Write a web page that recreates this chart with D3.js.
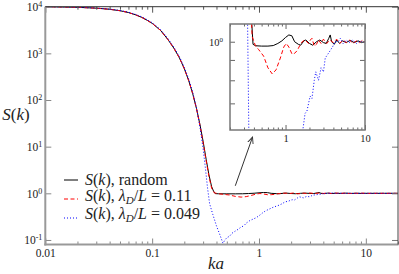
<!DOCTYPE html>
<html>
<head>
<meta charset="utf-8">
<script src="https://cdn.jsdelivr.net/npm/d3@7"></script>
<style>
body { margin: 0; background: #fff; }
text { fill: #222; }
</style>
</head>
<body>
<svg id="chart" width="399" height="274"></svg>
<script>

// S(k) vs ka [k, S]
var seriesRandom = [
	[0.01, 9990], [0.015, 9850], [0.02, 9700], [0.03, 9300], [0.04, 8800], [0.05, 8200],
	[0.06, 7500], [0.07, 6700], [0.08, 5900], [0.09, 5100], [0.1, 4400], [0.12, 3100],
	[0.14, 2000], [0.16, 1280], [0.18, 800], [0.2, 470], [0.22, 260], [0.24, 135],
	[0.26, 66], [0.28, 30], [0.3, 13], [0.32, 5.4], [0.34, 2.5], [0.36, 1.4], [0.375, 1.12],
	[0.39, 0.985], [0.42, 0.977], [0.5, 0.975], [0.6, 0.975], [0.7, 0.978], [0.8, 0.99],
	[0.9, 1.005], [1.0, 1.025], [1.1, 1.04], [1.2, 1.035], [1.3, 1.0], [1.45, 0.985],
	[1.55, 0.98], [1.7, 1.005], [1.8, 1.01], [2.0, 0.99], [2.2, 0.98], [2.45, 1.0],
	[2.7, 1.01], [3.0, 0.995], [3.25, 0.99], [3.5, 1.02], [3.65, 1.04], [3.8, 1.0],
	[4.1, 0.985], [4.4, 1.01], [4.8, 0.99], [5.2, 1.005], [5.8, 0.995], [6.5, 1.008],
	[7.3, 0.995], [8.2, 1.005], [9, 0.995], [10, 1.0], [12, 1.0], [15, 1.0], [20, 1.0]
];
var seriesL011 = [
	[0.01, 9990], [0.015, 9850], [0.02, 9700], [0.03, 9300], [0.04, 8800], [0.05, 8200],
	[0.06, 7500], [0.07, 6700], [0.08, 5900], [0.09, 5100], [0.1, 4400], [0.12, 3100],
	[0.14, 2000], [0.16, 1280], [0.18, 800], [0.2, 470], [0.22, 260], [0.24, 135],
	[0.26, 65], [0.28, 29], [0.3, 12], [0.32, 5], [0.34, 2.3], [0.36, 1.3], [0.38, 1.03],
	[0.42, 0.975], [0.46, 0.955], [0.53, 0.92], [0.6, 0.86], [0.68, 0.83], [0.76, 0.85],
	[0.86, 0.91], [0.95, 0.97], [1.02, 0.99], [1.1, 0.97], [1.21, 0.93], [1.3, 0.935],
	[1.4, 0.95], [1.52, 0.98], [1.62, 1.0], [1.75, 1.01], [1.95, 0.99], [2.05, 1.01],
	[2.15, 1.02], [2.3, 0.975], [2.45, 0.985], [2.6, 1.01], [2.8, 0.99], [3.0, 1.015],
	[3.3, 0.99], [3.6, 1.01], [4.0, 0.995], [4.4, 1.015], [4.8, 0.99], [5.3, 1.01],
	[5.8, 0.995], [6.4, 1.01], [7, 0.99], [7.8, 1.005], [8.6, 0.995], [9.4, 1.01],
	[10, 0.995], [12, 1.0], [15, 1.0], [20, 1.0]
];
var seriesL049 = [
	[0.01, 10000], [0.015, 9880], [0.02, 9740], [0.03, 9360], [0.04, 8880], [0.05, 8300],
	[0.06, 7620], [0.07, 6830], [0.08, 6050], [0.09, 5250], [0.1, 4550], [0.12, 3230],
	[0.14, 2100], [0.16, 1350], [0.18, 850], [0.2, 500], [0.22, 280], [0.24, 145],
	[0.26, 68], [0.28, 27], [0.3, 9], [0.315, 3.5], [0.33, 1.3], [0.345, 0.6], [0.37, 0.35],
	[0.4, 0.2], [0.43, 0.13], [0.46, 0.085], [0.48, 0.1], [0.5, 0.112], [0.53, 0.12],
	[0.56, 0.14], [0.6, 0.155], [0.64, 0.17], [0.68, 0.19], [0.72, 0.2], [0.76, 0.23],
	[0.82, 0.26], [0.88, 0.28], [0.94, 0.3], [1.0, 0.33], [1.08, 0.38], [1.15, 0.42],
	[1.25, 0.46], [1.35, 0.5], [1.45, 0.53], [1.55, 0.56], [1.65, 0.6], [1.76, 0.66],
	[1.86, 0.67], [1.95, 0.7], [2.04, 0.73], [2.15, 0.72], [2.3, 0.8], [2.4, 0.84],
	[2.6, 0.8], [2.8, 0.86], [3.0, 0.84], [3.16, 0.91], [3.4, 0.93], [3.65, 0.95],
	[3.9, 0.97], [4.2, 1.0], [4.6, 1.0], [4.9, 1.02], [5.3, 0.99], [5.8, 1.01],
	[6.3, 0.995], [7, 1.01], [7.8, 0.99], [8.6, 1.005], [9.5, 0.995], [10, 1.0],
	[12, 1.0], [20, 1.0]
];

var xMajorTicks = [0.01, 0.1, 1, 10];
var xTickLabels = ["0.01", "0.1", "1", "10"];
var yMajorTicks = [0.1, 1, 10, 100, 1000, 10000];
var yTickExps = ["-1", "0", "1", "2", "3", "4"];
var insetYTicks = [0.7, 0.8, 0.9, 1.0];
var insetXMajor = [1, 10];
var insetXLabels = ["1", "10"];
var legendValues = ["random", "0.11", "0.049"];
var arrowFrom = [0.6, 1.45], arrowTo = [0.87, 16];

var FONT = "Liberation Serif";
var svg = d3.select("#chart");
var m = {l: 45.3, r: 398, t: 6.7, b: 244.5};

var x = d3.scaleLog().domain([0.01, 20]).range([m.l, m.r]);
var y = d3.scaleLog().domain([0.08, 1e4]).range([m.b, m.t]);

var styles = [
	{data: seriesRandom, color: "#000", dash: null},
	{data: seriesL011, color: "#ff0000", dash: "4,2.5"},
	{data: seriesL049, color: "#0000ff", dash: "1,2"}
];

svg.append("clipPath").attr("id", "mainClip").append("rect")
	.attr("x", m.l).attr("y", m.t).attr("width", m.r - m.l).attr("height", m.b - m.t);

var line = d3.line().x(function (d) { return x(d[0]); }).y(function (d) { return y(d[1]); });

svg.append("g").attr("clip-path", "url(#mainClip)")
	.selectAll("path").data(styles).enter().append("path")
	.attr("d", function (d) { return line(d.data); })
	.attr("fill", "none")
	.attr("stroke", function (d) { return d.color; })
	.attr("stroke-width", 1)
	.attr("stroke-dasharray", function (d) { return d.dash; });

function minorsOf(scale, majors) {
	return scale.ticks().filter(function (v) {
		return !majors.some(function (mj) { return Math.abs(mj - v) < 1e-9; });
	});
}
var xMinor = minorsOf(x, xMajorTicks);

function styleAxis(g, col) {
	g.attr("font-family", FONT).attr("font-size", null);
	g.select(".domain").remove();
	g.selectAll("line").attr("stroke", col);
}

// bottom
var gb = svg.append("g").attr("transform", "translate(0," + m.b + ")")
	.call(d3.axisBottom(x).tickValues(xMajorTicks).tickSize(-6).tickPadding(4.5)
		.tickFormat(function (d, i) { return xTickLabels[i]; }));
styleAxis(gb, "#888");
gb.selectAll("text").attr("font-size", 11.5);
styleAxis(svg.append("g").attr("transform", "translate(0," + m.b + ")")
	.call(d3.axisBottom(x).tickValues(xMinor).tickSize(-3).tickFormat("")), "#888");
// top
styleAxis(svg.append("g").attr("transform", "translate(0," + m.t + ")")
	.call(d3.axisTop(x).tickValues(xMajorTicks).tickSize(-6).tickFormat("")), "#555");
styleAxis(svg.append("g").attr("transform", "translate(0," + m.t + ")")
	.call(d3.axisTop(x).tickValues(xMinor).tickSize(-3).tickFormat("")), "#555");
// left
var gl = svg.append("g").attr("transform", "translate(" + m.l + ",0)")
	.call(d3.axisLeft(y).tickValues(yMajorTicks).tickSize(-6).tickPadding(3).tickFormat(""));
styleAxis(gl, "#888");
gl.selectAll(".tick text").attr("font-size", 11.5).each(function (d, i) {
	var t = d3.select(this);
	t.append("tspan").text("10");
	t.append("tspan").attr("dy", "-0.5em").attr("font-size", 8).text(yTickExps[i]);
});
// right
styleAxis(svg.append("g").attr("transform", "translate(" + m.r + ",0)")
	.call(d3.axisRight(y).tickValues(yMajorTicks).tickSize(-6).tickFormat("")), "#777");

// frame
svg.append("line").attr("x1", m.l).attr("x2", m.l).attr("y1", m.t).attr("y2", m.b + 1)
	.attr("stroke", "#999").attr("stroke-width", 2);
svg.append("line").attr("x1", m.l - 1).attr("x2", m.r + 0.5).attr("y1", m.b).attr("y2", m.b)
	.attr("stroke", "#999").attr("stroke-width", 2);
svg.append("line").attr("x1", m.l).attr("x2", m.r).attr("y1", m.t).attr("y2", m.t)
	.attr("stroke", "#333").attr("stroke-width", 1);
svg.append("line").attr("x1", m.r).attr("x2", m.r).attr("y1", m.t).attr("y2", m.b)
	.attr("stroke", "#444").attr("stroke-width", 1);

// axis titles
var yt = svg.append("text").attr("x", 16).attr("y", 120).attr("text-anchor", "middle")
	.attr("font-family", FONT).attr("font-size", 17);
yt.append("tspan").attr("font-style", "italic").text("S");
yt.append("tspan").text("(");
yt.append("tspan").attr("font-style", "italic").text("k");
yt.append("tspan").text(")");
svg.append("text").attr("x", 216).attr("y", 269).attr("text-anchor", "middle")
	.attr("font-family", FONT).attr("font-size", 17).attr("font-style", "italic").text("ka");

// legend
var legRowY = [180, 199, 218];
var legTextY = [184.5, 201, 218.5];
styles.forEach(function (s, i) {
	svg.append("line").attr("x1", 64).attr("x2", 78).attr("y1", legRowY[i]).attr("y2", legRowY[i])
		.attr("stroke", s.color).attr("stroke-width", 1).attr("stroke-dasharray", s.dash);
	var t = svg.append("text").attr("x", 85).attr("y", legTextY[i])
		.attr("font-family", FONT).attr("font-size", 16);
	t.append("tspan").attr("font-style", "italic").text("S");
	t.append("tspan").text("(");
	t.append("tspan").attr("font-style", "italic").text("k");
	if (i === 0) {
		t.append("tspan").text("), " + legendValues[i]);
	} else {
		t.append("tspan").text("), ");
		t.append("tspan").attr("font-style", "italic").text("\u03bb");
		t.append("tspan").attr("font-style", "italic").attr("font-size", 11).attr("dy", 3).text("D");
		t.append("tspan").attr("dy", -3).text("/");
		t.append("tspan").attr("font-style", "italic").text("L");
		t.append("tspan").text(" = " + legendValues[i]);
	}
});

// arrow
svg.append("defs").append("marker").attr("id", "head")
	.attr("viewBox", "0 0 10 10").attr("refX", 9).attr("refY", 5)
	.attr("markerWidth", 7).attr("markerHeight", 7).attr("orient", "auto")
	.append("path").attr("d", "M0,1 L9,5 L0,9").attr("fill", "none").attr("stroke", "#333").attr("stroke-width", 1.3);
svg.append("line")
	.attr("x1", x(arrowFrom[0])).attr("y1", y(arrowFrom[1]))
	.attr("x2", x(arrowTo[0])).attr("y2", y(arrowTo[1]))
	.attr("stroke", "#333").attr("stroke-width", 1).attr("marker-end", "url(#head)");

// inset
var ib = {l: 230, r: 365, t: 24, b: 130};
var xi = d3.scaleLog().domain([0.2, 10]).range([ib.l, ib.r]);
var yi = d3.scaleLog().domain([0.6, 1.108]).range([ib.b, ib.t]);
var inset = svg.append("g");
inset.append("rect").attr("x", ib.l).attr("y", ib.t).attr("width", ib.r - ib.l).attr("height", ib.b - ib.t)
	.attr("fill", "#fff");
inset.append("clipPath").attr("id", "insetClip").append("rect")
	.attr("x", ib.l).attr("y", ib.t).attr("width", ib.r - ib.l).attr("height", ib.b - ib.t);
var lineI = d3.line().x(function (d) { return xi(d[0]); }).y(function (d) { return yi(d[1]); });
inset.append("g").attr("clip-path", "url(#insetClip)")
	.selectAll("path").data(styles).enter().append("path")
	.attr("d", function (d) { return lineI(d.data); })
	.attr("fill", "none")
	.attr("stroke", function (d) { return d.color; })
	.attr("stroke-width", 1)
	.attr("stroke-dasharray", function (d) { return d.dash; });

var xiMinor = minorsOf(xi, insetXMajor);
var gib = inset.append("g").attr("transform", "translate(0," + ib.b + ")")
	.call(d3.axisBottom(xi).tickValues(insetXMajor).tickSize(-5).tickPadding(5)
		.tickFormat(function (d, i) { return insetXLabels[i]; }));
styleAxis(gib, "#666");
gib.selectAll("text").attr("font-size", 10.5);
styleAxis(inset.append("g").attr("transform", "translate(0," + ib.b + ")")
	.call(d3.axisBottom(xi).tickValues(xiMinor).tickSize(-2.5).tickFormat("")), "#666");
styleAxis(inset.append("g").attr("transform", "translate(0," + ib.t + ")")
	.call(d3.axisTop(xi).tickValues(insetXMajor).tickSize(-5).tickFormat("")), "#666");
styleAxis(inset.append("g").attr("transform", "translate(0," + ib.t + ")")
	.call(d3.axisTop(xi).tickValues(xiMinor).tickSize(-2.5).tickFormat("")), "#666");
var gil = inset.append("g").attr("transform", "translate(" + ib.l + ",0)")
	.call(d3.axisLeft(yi).tickValues(insetYTicks).tickSize(-5).tickPadding(7).tickFormat(""));
styleAxis(gil, "#666");
gil.selectAll(".tick text").filter(function (d) { return d === 1; }).attr("font-size", 10.5)
	.each(function () {
		var t = d3.select(this);
		t.append("tspan").text("10");
		t.append("tspan").attr("dy", "-0.5em").attr("font-size", 7).text("0");
	});
styleAxis(inset.append("g").attr("transform", "translate(" + ib.r + ",0)")
	.call(d3.axisRight(yi).tickValues(insetYTicks).tickSize(-5).tickFormat("")), "#666");
inset.append("rect").attr("x", ib.l).attr("y", ib.t).attr("width", ib.r - ib.l).attr("height", ib.b - ib.t)
	.attr("fill", "none").attr("stroke", "#777").attr("stroke-width", 1.5);

</script>
</body>
</html>
